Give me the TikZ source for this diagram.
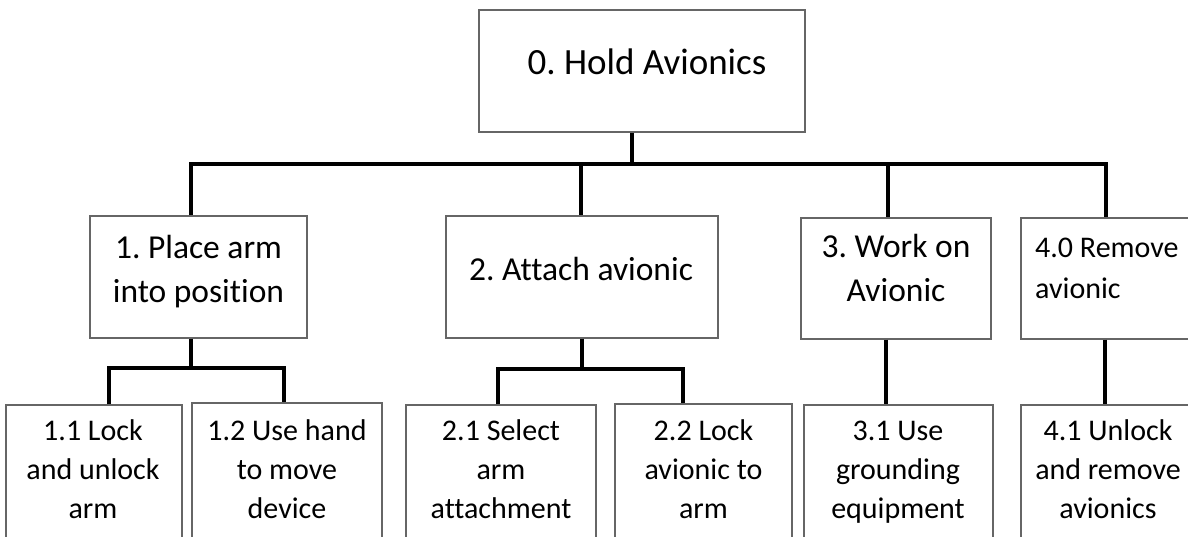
\documentclass[tikz,border=0pt]{standalone}
\usepackage{fontspec}
\setmainfont{Carlito}[Ligatures=NoCommon]
\frenchspacing
\newcommand\topfont{\fontsize{37}{45}\selectfont}
\newcommand\midfont{\fontsize{33.5}{44}\selectfont}
\newcommand\subfont{\fontsize{30}{39}\selectfont}

\begin{document}
\begin{tikzpicture}[x=1pt,y=-1pt,
    taskbox/.style={draw=black!60, line width=1.3pt, inner sep=0pt},
    tasktext/.style={inner sep=0pt, anchor=north, align=center},
    wire/.style={line width=4.7pt, line join=miter}]
    \useasboundingbox (0,0) rectangle (1188,537);
    \clip (0,0) rectangle (1188,537);

    % boxes
    \node[taskbox, minimum width=326pt, minimum height=122pt] (hold) at (642,71) {};

    \node[taskbox, minimum width=217pt, minimum height=122pt] (place) at (198.5,277) {};
    \node[taskbox, minimum width=272pt, minimum height=122pt] (attach) at (582,277) {};
    \node[taskbox, minimum width=190pt, minimum height=121pt] (work) at (896,278.5) {};
    \node[taskbox, minimum width=190pt, minimum height=121pt] (remove) at (1116,278.5) {};

    \node[taskbox, minimum width=176pt, minimum height=155pt] (lockarm) at (94,482.5) {};
    \node[taskbox, minimum width=190pt, minimum height=157pt] (handmove) at (287,481.5) {};
    \node[taskbox, minimum width=190pt, minimum height=155pt] (select) at (501,482.5) {};
    \node[taskbox, minimum width=177pt, minimum height=156pt] (lockav) at (703.5,482) {};
    \node[taskbox, minimum width=189pt, minimum height=155pt] (ground) at (898.5,482.5) {};
    \node[taskbox, minimum width=190pt, minimum height=155pt] (unlock) at (1116,482.5) {};

    % texts
    \node[tasktext, font=\topfont] (holdtext) at (647,42.5) {\strut 0. Hold Avionics};

    \node[tasktext, font=\midfont] (placetext) at (198.5,227.2) {\strut 1. Place arm\\into position};
    \node[tasktext, font=\midfont] (attachtext) at (581,249.2) {\strut 2. Attach avionic};
    \node[tasktext, font=\midfont] (worktext) at (896,226.2) {\strut 3. Work on\\Avionic};
    \node[tasktext, anchor=north west, align=left, font=\fontsize{30}{41}\selectfont] (removetext) at (1035,228.3) {\strut 4.0 Remove\\avionic};

    \node[tasktext, font=\subfont] (lockarmtext) at (93,412.7) {\strut 1.1 Lock\\and unlock\\arm};
    \node[tasktext, font=\subfont] (handmovetext) at (287,412.7) {\strut 1.2 Use hand\\to move\\device};
    \node[tasktext, font=\subfont] (selecttext) at (501,412.7) {\strut 2.1 Select\\arm\\attachment};
    \node[tasktext, font=\subfont] (lockavtext) at (703.5,412.7) {\strut 2.2 Lock\\avionic to\\arm};
    \node[tasktext, font=\subfont] (groundtext) at (898,412.7) {\strut 3.1 Use\\grounding\\equipment};
    \node[tasktext, font=\subfont] (unlocktext) at (1108,412.7) {\strut 4.1 Unlock\\and remove\\avionics};

    % level 1
    \coordinate (jtop) at (632,164);
    \coordinate (jplace) at (191,164);
    \coordinate (jattach) at (581,164);
    \coordinate (jwork) at (888,164);
    \coordinate (jremove) at (1106,164);
    \draw[wire] (hold.south -| jtop) -- (jtop);
    \draw[wire] (place.north -| jplace) -- (jplace) -- (jremove) -- (remove.north -| jremove);
    \draw[wire] (jattach) -- (jattach |- attach.north);
    \draw[wire] (jwork) -- (jwork |- work.north);

    % level 2
    \coordinate (kplace) at (191,368);
    \coordinate (klockarm) at (109,368);
    \coordinate (khandmove) at (284,368);
    \draw[wire] (place.south -| kplace) -- (kplace);
    \draw[wire] (lockarm.north -| klockarm) -- (klockarm) -- (khandmove) -- (handmove.north -| khandmove);

    \coordinate (kattach) at (582,369);
    \coordinate (kselect) at (498,369);
    \coordinate (klockav) at (683,369);
    \draw[wire] (attach.south -| kattach) -- (kattach);
    \draw[wire] (select.north -| kselect) -- (kselect) -- (klockav) -- (lockav.north -| klockav);

    \coordinate (kwork) at (886,372);
    \coordinate (kremove) at (1105,372);
    \draw[wire] (work.south -| kwork) -- (kwork |- ground.north);
    \draw[wire] (remove.south -| kremove) -- (kremove |- unlock.north);
\end{tikzpicture}
\end{document}
